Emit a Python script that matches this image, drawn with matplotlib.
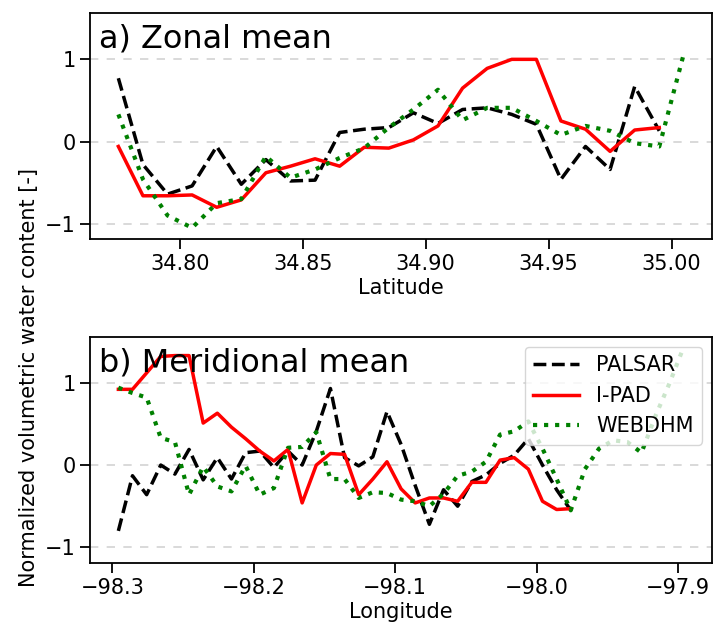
import numpy as np
from matplotlib import pyplot as plt

# a) zonal mean, latitude step 0.01
lat0 = 34.775
palsar_zonal = [0.77, -0.28, -0.64, -0.54, -0.06, -0.52, -0.22, -0.48, -0.47, 0.11, 0.15, 0.17,
                0.35, 0.22, 0.39, 0.41, 0.33, 0.21, -0.46, -0.06, -0.34, 0.67, 0.13]
ipad_zonal = [-0.06, -0.66, -0.66, -0.65, -0.80, -0.71, -0.38, -0.30, -0.21, -0.30, -0.07, -0.08,
              0.02, 0.19, 0.65, 0.89, 1.00, 1.00, 0.25, 0.15, -0.12, 0.14, 0.17]
webdhm_zonal = [0.33, -0.46, -0.90, -1.05, -0.75, -0.70, -0.18, -0.44, -0.34, -0.20, -0.08, 0.17,
                0.39, 0.63, 0.26, 0.41, 0.41, 0.25, 0.08, 0.19, 0.13, -0.02, -0.06, 1.07]

# b) meridional mean, longitude step 0.01
lon0 = -98.2958
palsar_merid = [-0.80, -0.13, -0.36, 0.00, -0.11, 0.19, -0.18, 0.09, -0.17, 0.15, 0.17, -0.03,
                0.17, 0.00, 0.41, 0.93, 0.09, -0.01, 0.10, 0.65, 0.25, -0.25, -0.72, -0.30,
                -0.50, -0.20, -0.12, 0.02, 0.12, 0.32, 0.00, -0.30, -0.55]
ipad_merid = [0.92, 0.92, 1.12, 1.32, 1.33, 1.33, 0.51, 0.63, 0.46, 0.32, 0.17, 0.05,
              0.19, -0.46, 0.00, 0.14, 0.13, -0.36, -0.17, 0.04, -0.29, -0.46, -0.40, -0.40,
              -0.44, -0.21, -0.21, 0.06, 0.09, -0.05, -0.44, -0.54, -0.53]
webdhm_merid = [0.94, 0.875, 0.82, 0.33, 0.28, -0.36, -0.02, -0.26, -0.32, -0.01, -0.36, -0.28,
                0.21, 0.22, 0.40, -0.17, -0.17, -0.40, -0.33, -0.34, -0.42, -0.44, -0.50, -0.35,
                -0.13, -0.08, 0.04, 0.37, 0.41, 0.53, 0.20, -0.17, -0.55, -0.05, 0.20, 0.30,
                0.28, 0.15, 0.60, 1.00, 1.44]

def coords(start, vals, step=0.01):
    return start + step * np.arange(len(vals))

fig = plt.figure(figsize=(7.15, 6.34), dpi=100)
ax1 = fig.add_axes([0.126, 0.6225, 0.87, 0.3565])
ax2 = fig.add_axes([0.126, 0.112, 0.87, 0.357])

fs = 15
for ax, x0, p, r, w, lab, title in [
        (ax1, lat0, palsar_zonal, ipad_zonal, webdhm_zonal, 'Latitude', 'a) Zonal mean'),
        (ax2, lon0, palsar_merid, ipad_merid, webdhm_merid, 'Longitude', 'b) Meridional mean')]:
    ax.plot(coords(x0, p), p, 'k--', lw=2.5, label='PALSAR')
    ax.plot(coords(x0, r), r, 'r-', lw=2.5, label='I-PAD')
    ax.plot(coords(x0, w), w, color='green', ls=':', lw=3, label='WEBDHM')
    ax.set_ylim(-1.19, 1.56)
    ax.set_yticks([-1, 0, 1])
    ax.yaxis.grid(True, ls=(0, (5, 5)), color='lightgray', lw=1.2)
    ax.set_axisbelow(True)
    ax.set_xlabel(lab, fontsize=fs, labelpad=3)
    ax.tick_params(labelsize=fs, width=1.3, length=7)
    for s in ax.spines.values():
        s.set_linewidth(1.3)
    ax.text(0.015, 0.885, title, transform=ax.transAxes, fontsize=23, va='center')

ax1.set_xticks([34.80, 34.85, 34.90, 34.95, 35.00])
ax1.set_xticklabels(['34.80', '34.85', '34.90', '34.95', '35.00'])
ax2.set_xticks([-98.3, -98.2, -98.1, -98.0, -97.9])

ax2.legend(loc='upper right', fontsize=fs, handlelength=2.2)

fig.text(0.04, 0.405, 'Normalized volumetric water content [-]', rotation=90,
         fontsize=fs, ha='center', va='center')

plt.savefig('out.png', dpi=100)
